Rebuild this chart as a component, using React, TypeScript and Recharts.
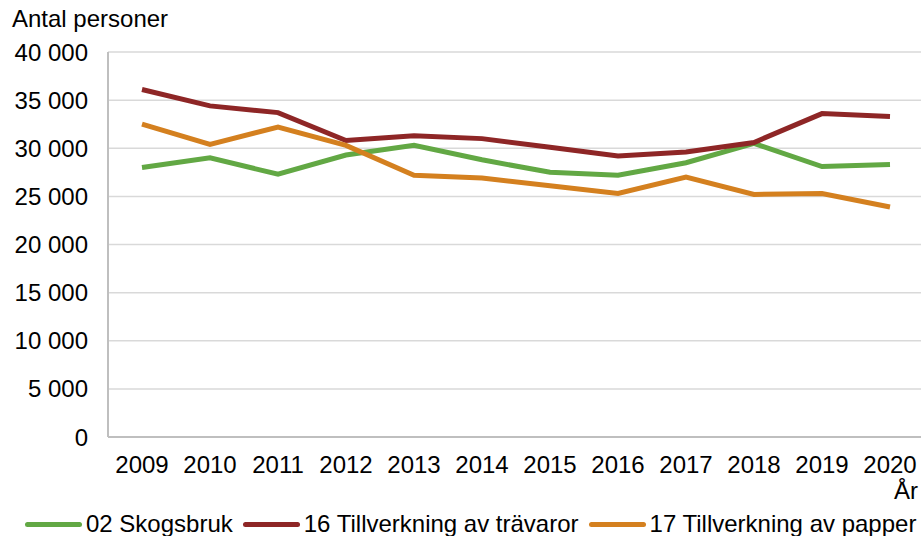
import { LineChart, Line, XAxis, YAxis, CartesianGrid } from 'recharts';

const years = ['2009', '2010', '2011', '2012', '2013', '2014', '2015', '2016', '2017', '2018', '2019', '2020'];
const skogsbruk = [28000, 29000, 27300, 29300, 30300, 28800, 27500, 27200, 28500, 30500, 28100, 28300];
const travaror = [36100, 34400, 33700, 30800, 31300, 31000, 30100, 29200, 29600, 30600, 33600, 33300];
const papper = [32500, 30400, 32200, 30300, 27200, 26900, 26100, 25300, 27000, 25200, 25300, 23900];
const yTicks = [0, 5000, 10000, 15000, 20000, 25000, 30000, 35000, 40000];

const series = [
  { key: 'skogsbruk', name: '02 Skogsbruk', color: '#62a844' },
  { key: 'travaror', name: '16 Tillverkning av trävaror', color: '#8e2626' },
  { key: 'papper', name: '17 Tillverkning av papper', color: '#d4801f' },
];

const data = years.map((year, i) => ({
  year,
  skogsbruk: skogsbruk[i],
  travaror: travaror[i],
  papper: papper[i],
}));

const formatThousands = (v: number) =>
  v >= 1000 ? `${Math.floor(v / 1000)} ${String(v % 1000).padStart(3, '0')}` : String(v);

export default function App() {
  return (
    <div
      style={{
        position: 'absolute',
        left: 0,
        top: 0,
        width: 921,
        height: 536,
        overflow: 'hidden',
        background: '#fff',
        fontFamily: '"Liberation Sans", Arial, sans-serif',
        color: '#000',
      }}
    >
      <div style={{ position: 'absolute', left: 12, top: 5, fontSize: 24 }}>Antal personer</div>
      <LineChart width={921} height={536} data={data} margin={{ top: 52, right: 0, bottom: 0, left: 0 }}>
        <CartesianGrid vertical={false} stroke="#d9d9d9" strokeWidth={1.5} />
        <XAxis
          dataKey="year"
          height={99}
          padding={{ left: 34, right: 31 }}
          tickSize={0}
          tickMargin={19}
          axisLine={{ stroke: '#bfbfbf', strokeWidth: 2 }}
          tick={{ fill: '#000', fontSize: 24 }}
          interval={0}
        />
        <YAxis
          width={108}
          domain={[0, 40000]}
          ticks={yTicks}
          tickFormatter={formatThousands}
          tickSize={0}
          tickMargin={20}
          axisLine={{ stroke: '#bfbfbf', strokeWidth: 2 }}
          tick={{ fill: '#000', fontSize: 24 }}
          interval={0}
        />
        {series.map((s) => (
          <Line
            key={s.key}
            type="linear"
            dataKey={s.key}
            name={s.name}
            stroke={s.color}
            strokeWidth={5}
            dot={false}
            isAnimationActive={false}
          />
        ))}
      </LineChart>
      <div style={{ position: 'absolute', right: 3, top: 477, fontSize: 24 }}>År</div>
      <div
        style={{
          position: 'absolute',
          left: 25,
          top: 510,
          display: 'flex',
          alignItems: 'center',
          fontSize: 24,
          whiteSpace: 'nowrap',
        }}
      >
        {series.map((s, i) => (
          <div key={s.key} style={{ display: 'flex', alignItems: 'center', marginLeft: i === 0 ? 0 : 10 }}>
            <span
              style={{
                display: 'inline-block',
                width: 57,
                height: 5,
                borderRadius: 3,
                background: s.color,
                marginRight: 4,
              }}
            />
            <span>{s.name}</span>
          </div>
        ))}
      </div>
    </div>
  );
}
